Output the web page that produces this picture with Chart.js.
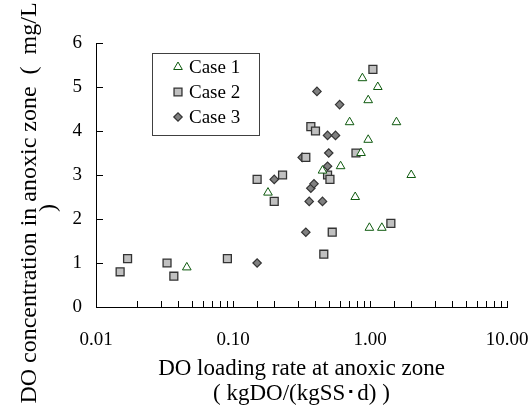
<!DOCTYPE html>
<html>
<head>
<meta charset="utf-8">
<script src="https://cdn.jsdelivr.net/npm/chart.js"></script>
<style>
  body { margin: 0; background: #fff; }
  canvas { display: block; }
</style>
</head>
<body>
<canvas id="doChart" width="532" height="411"></canvas>
<script>
// DO loading rate (kgDO/(kgSS·d)) vs DO concentration (mg/L)
var case1X = [0.046, 0.18, 0.45, 0.61, 0.71, 0.78, 0.86, 0.88, 0.97, 0.97, 0.99, 1.14, 1.22, 1.56, 2.0];
var case1Y = [0.9, 2.6, 3.1, 3.2, 4.2, 2.5, 3.5, 5.2, 4.7, 3.8, 1.8, 5.0, 1.8, 4.2, 3.0];

var case2X = [0.015, 0.017, 0.033, 0.037, 0.091, 0.15, 0.20, 0.23, 0.34, 0.37, 0.40, 0.46, 0.49, 0.51, 0.53, 0.79, 1.05, 1.42];
var case2Y = [0.8, 1.1, 1.0, 0.7, 1.1, 2.9, 2.4, 3.0, 3.4, 4.1, 4.0, 1.2, 3.0, 2.9, 1.7, 3.5, 5.4, 1.9];

var case3X = [0.15, 0.20, 0.32, 0.34, 0.36, 0.37, 0.39, 0.41, 0.45, 0.49, 0.49, 0.50, 0.56, 0.60];
var case3Y = [1.0, 2.9, 3.4, 1.7, 2.4, 2.7, 2.8, 4.9, 2.4, 3.2, 3.9, 3.5, 3.9, 4.6];

var caseNames = ["Case 1", "Case 2", "Case 3"];
var yTitle = ["DO concentration in anoxic zone  (  mg/L", ")"];
var xTitle = ["DO loading rate at anoxic zone", "( kgDO/(kgSS\uFF65d) )"];

var serif = "'Liberation Serif', 'Times New Roman', serif";

function pairs(xs, ys) {
  var out = [];
  for (var i = 0; i < xs.length; i++) out.push({x: xs[i], y: ys[i]});
  return out;
}

// inward tick marks, taken from the scales' own ticks
var innerTicksPlugin = {
  id: 'innerTicks',
  afterDraw: function(chart) {
    var ctx = chart.ctx, xs = chart.scales.x, ys = chart.scales.y;
    var area = chart.chartArea;
    ctx.save();
    ctx.strokeStyle = '#000';
    ctx.lineWidth = 1;
    ctx.beginPath();
    xs.ticks.forEach(function(t) {
      var px = Math.round(xs.getPixelForValue(t.value)) + 0.5;
      ctx.moveTo(px, area.bottom);
      ctx.lineTo(px, area.bottom - 6);
    });
    ys.ticks.forEach(function(t) {
      var py = Math.round(ys.getPixelForValue(t.value)) + 0.5;
      ctx.moveTo(area.left, py);
      ctx.lineTo(area.left + 7, py);
    });
    ctx.stroke();
    ctx.restore();
  }
};

// y title drawn by hand so it can sit lower than the axis centre, like the original
var yTitlePlugin = {
  id: 'yTitle',
  afterDraw: function(chart) {
    var ctx = chart.ctx;
    ctx.save();
    ctx.fillStyle = '#000';
    ctx.font = "24px " + serif;
    ctx.textAlign = 'center';
    ctx.textBaseline = 'alphabetic';
    ctx.translate(36, 203);
    ctx.rotate(-Math.PI / 2);
    ctx.fillText(yTitle[0], 0, 0);
    ctx.fillText(yTitle[1], -5, 19);
    ctx.restore();
  }
};

// boxed legend inside the plot area
var boxLegendPlugin = {
  id: 'boxLegend',
  afterDraw: function(chart) {
    var ctx = chart.ctx;
    var left = chart.chartArea.left + 56, top = chart.chartArea.top + 10;
    ctx.save();
    ctx.fillStyle = '#fff';
    ctx.fillRect(left, top, 107, 82);
    ctx.strokeStyle = '#404040';
    ctx.lineWidth = 1;
    ctx.strokeRect(left + 0.5, top + 0.5, 107, 82);
    ctx.font = "19px " + serif;
    ctx.textBaseline = 'middle';
    chart.data.datasets.forEach(function(ds, i) {
      var cy = top + 14 + i * 25;
      ctx.fillStyle = ds.backgroundColor;
      ctx.strokeStyle = ds.borderColor;
      ctx.lineWidth = ds.borderWidth;
      Chart.helpers.drawPoint(ctx, {pointStyle: ds.pointStyle, radius: ds.pointRadius, borderWidth: ds.borderWidth, rotation: 0}, left + 26, cy);
      ctx.fillStyle = '#000';
      ctx.fillText(ds.label, left + 37, cy + 1);
    });
    ctx.restore();
  }
};

new Chart(document.getElementById('doChart'), {
  type: 'scatter',
  data: {
    datasets: [
      {
        label: caseNames[0],
        data: pairs(case1X, case1Y),
        pointStyle: 'triangle',
        pointRadius: 5,
        borderWidth: 1,
        borderColor: '#0f5a0f',
        backgroundColor: '#ffffff'
      },
      {
        label: caseNames[1],
        data: pairs(case2X, case2Y),
        pointStyle: 'rect',
        pointRadius: 5.6,
        borderWidth: 1.3,
        borderColor: '#333333',
        backgroundColor: '#c0c0c0'
      },
      {
        label: caseNames[2],
        data: pairs(case3X, case3Y),
        pointStyle: 'rectRot',
        pointRadius: 4.2,
        borderWidth: 1.2,
        borderColor: '#333333',
        backgroundColor: '#808080'
      }
    ]
  },
  options: {
    responsive: false,
    animation: false,
    layout: { padding: { left: 0, right: 25, top: 43, bottom: 0 } },
    plugins: {
      legend: { display: false },
      tooltip: { enabled: false }
    },
    scales: {
      x: {
        type: 'logarithmic',
        min: 0.01,
        max: 10,
        border: { color: '#000', width: 1 },
        grid: { display: false, drawTicks: false },
        ticks: {
          autoSkip: false,
          maxRotation: 0,
          color: '#000',
          padding: 22,
          font: { family: serif, size: 19 },
          callback: function(v) {
            var l = Math.log10(v);
            return Math.abs(l - Math.round(l)) < 1e-6 ? Number(v).toFixed(2) : '';
          }
        },
        title: {
          display: true,
          text: xTitle,
          color: '#000',
          font: { family: serif, size: 23, lineHeight: 1.1 },
          padding: { top: 0, bottom: 4 }
        },
        afterFit: function(scale) {
          scale.height = 104;
          scale.paddingLeft = 0;
          scale.paddingRight = 0;
        }
      },
      y: {
        min: 0,
        max: 6,
        border: { color: '#000', width: 1 },
        grid: { display: false, drawTicks: false },
        ticks: {
          stepSize: 1,
          color: '#000',
          padding: 14,
          font: { family: serif, size: 19 }
        },
        afterFit: function(scale) { scale.width = 96; }
      }
    }
  },
  plugins: [innerTicksPlugin, yTitlePlugin, boxLegendPlugin]
});
</script>
</body>
</html>
